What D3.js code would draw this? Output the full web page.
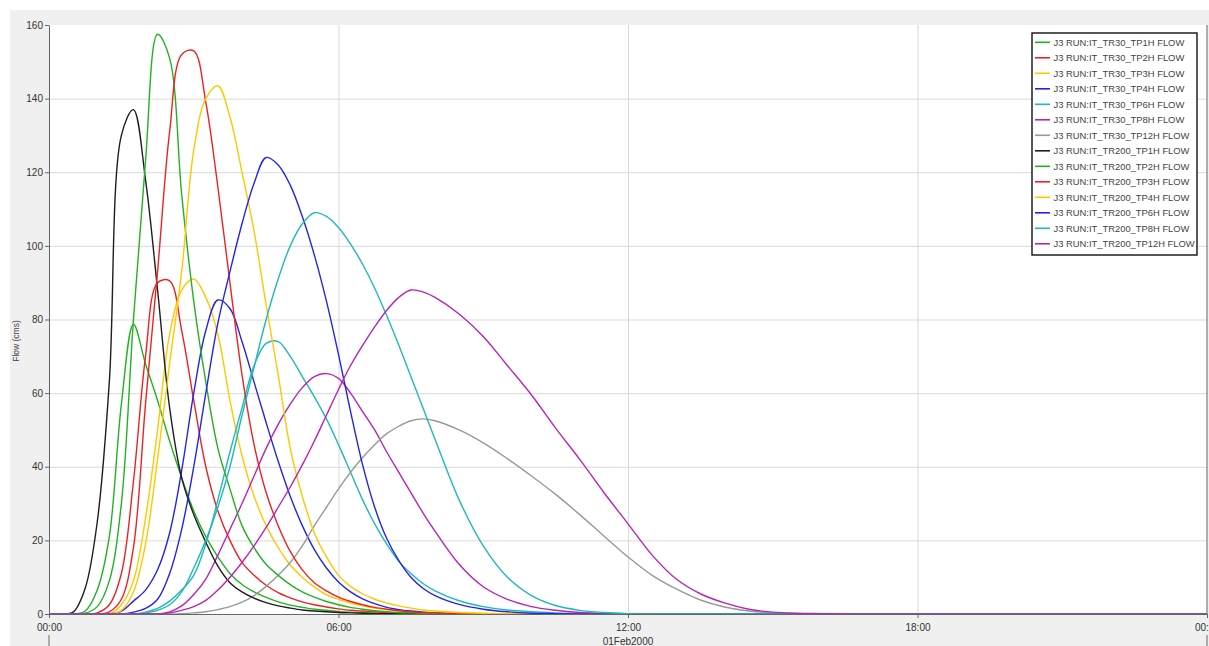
<!DOCTYPE html>
<html>
<head>
<meta charset="utf-8">
<script src="https://cdn.jsdelivr.net/npm/d3@7"></script>
<style>
body { margin: 0; background: #fff; }
svg { display: block; font-family: "Liberation Sans", Arial, sans-serif; }
</style>
</head>
<body>
<svg id="chart" width="1209" height="646"></svg>
<script>
// hours after 01Feb2000 00:00
var hours = [0,0.25,0.5,0.75,1,1.25,1.5,1.75,2,2.25,2.5,2.75,3,3.25,3.5,3.75,4,4.25,4.5,4.75,5,5.25,5.5,5.75,6,6.25,6.5,6.75,7,7.25,7.5,7.75,8,
  8.5,9,9.5,10,10.5,11,11.5,12,12.5,13,13.5,14,14.5,15,15.5,16,
  17,18,24];

// flow values (cms), one per hour above
var tr30Tp1h = [0,0,0,0.8,6.5,21,57,78.7,68,58,47,37,28,21,15.5,11,8,6,4.5,3.3,2.4,1.8,1.3,1,0.7,0.5,0.4,0.3,0.2,0.1,0.1,0,0,
  0,0,0,0,0,0,0,0,0,0,0,0,0,0,0,0,
  0,0,0];
var tr30Tp2h = [0,0,0,0,0.3,2.5,11,36,70,90,90.5,77,58,40,28,20,14,10.5,7.8,5.8,4.4,3.3,2.5,1.9,1.4,1,0.8,0.6,0.4,0.3,0.2,0.1,0.1,
  0,0,0,0,0,0,0,0,0,0,0,0,0,0,0,0,
  0,0,0];
var tr30Tp3h = [0,0,0,0,0,0,2.5,9,26,50,76,88,91,86,76,58,43,32,24,18,13.3,10,7.3,5.2,4,3,2.2,1.6,1.2,0.9,0.6,0.4,0.3,
  0.1,0,0,0,0,0,0,0,0,0,0,0,0,0,0,0,
  0,0,0];
var tr30Tp4h = [0,0,0,0,0,0,0.8,3.5,6.5,12,22,39,60,77,85.3,83,74,63,52,41.5,32,24,17.5,12.5,8.7,6,4.1,2.8,1.8,1.2,0.8,0.5,0.3,
  0.1,0,0,0,0,0,0,0,0,0,0,0,0,0,0,0,
  0,0,0];
var tr30Tp6h = [0,0,0,0,0,0,0,0,0.5,1.5,3.5,6.5,10.5,19,31,44,56,67.5,73.5,74,70,64.5,59,53,46,38.5,31,24.5,19,14.3,11,8.3,6.3,
  3.6,2,1.1,0.6,0.3,0.1,0,0,0,0,0,0,0,0,0,0,
  0,0,0];
var tr30Tp8h = [0,0,0,0,0,0,0,0,0,0,0.6,2.2,5.3,9.5,16,23,30,37.5,45,51.5,57,61.5,64.5,65.3,64,60,55,50,44,38.5,33,27.5,22.5,
  13.5,7.4,4,2,1,0.4,0.1,0,0,0,0,0,0,0,0,0,
  0,0,0];
var tr30Tp12h = [0,0,0,0,0,0,0,0,0,0,0,0.1,0.3,0.6,1.2,2,3.2,5,7.5,10.5,14,18.5,24,29,34,38.5,42.5,46,49,51,52.5,53,52.5,
  50,46.5,42.2,37.5,32.5,27,21.2,15.5,10.5,6.8,3.8,1.9,0.8,0.3,0.1,0,
  0,0,0];
var tr200Tp1h = [0,0,0.5,7,25,63,130,137,118,88,56,37,27,19.5,13,8.5,6,4.3,3.1,2.2,1.6,1.1,0.8,0.6,0.4,0.3,0.2,0.1,0.1,0,0,0,0,
  0,0,0,0,0,0,0,0,0,0,0,0,0,0,0,0,
  0,0,0];
var tr200Tp2h = [0,0,0,0.2,2,9,30,80,123,157.5,151,114,85,63,45,34,24,18,13.5,10.5,8,6,4.6,3.4,2.5,1.8,1.3,0.9,0.6,0.4,0.3,0.2,0.1,
  0,0,0,0,0,0,0,0,0,0,0,0,0,0,0,0,
  0,0,0];
var tr200Tp3h = [0,0,0,0,0,0.6,4,18,57,93,131,152,153,139,116,90,65,46,33,24,17,12,8.5,6.3,4.6,3.4,2.5,1.8,1.3,0.9,0.6,0.4,0.3,
  0.1,0,0,0,0,0,0,0,0,0,0,0,0,0,0,0,
  0,0,0];
var tr200Tp4h = [0,0,0,0,0,0,1,6,19,42,68,93,126,140,143.5,135,120,104,84,65,45,32,22,15.5,10.5,7.5,5.5,4,3,2.2,1.6,1.1,0.8,
  0.4,0.2,0.1,0,0,0,0,0,0,0,0,0,0,0,0,0,
  0,0,0];
var tr200Tp6h = [0,0,0,0,0,0,0,0.5,1.5,4,11,23,40,60,79,93,106,117,124,122,116.5,108,97.5,85,70.5,55,40.5,29,20.5,14.5,10,7,5,
  2.6,1.3,0.6,0.2,0.1,0,0,0,0,0,0,0,0,0,0,0,
  0,0,0];
var tr200Tp8h = [0,0,0,0,0,0,0,0,0.3,1,2.5,6,12.5,20,29,40,54,67,80,91,100,106,109,108,105,100.5,95,88.5,81,73,64.5,56,47.5,
  31,18.5,10,5,2.3,1,0.4,0.1,0,0,0,0,0,0,0,0,
  0,0,0];
var tr200Tp12h = [0,0,0,0,0,0,0,0,0,0,0.3,1,2,3.7,6.5,10,14,18.5,23.5,29,34.5,40.5,47,54,61,67.5,73,78,82.5,86,88,87.5,86,
  81.5,75.4,67.5,59.5,50.5,42,33,24.5,16,9.5,5.5,3,1.3,0.5,0.2,0.1,
  0,0,0];

var seriesNames = [
  "J3 RUN:IT_TR30_TP1H FLOW", "J3 RUN:IT_TR30_TP2H FLOW", "J3 RUN:IT_TR30_TP3H FLOW",
  "J3 RUN:IT_TR30_TP4H FLOW", "J3 RUN:IT_TR30_TP6H FLOW", "J3 RUN:IT_TR30_TP8H FLOW",
  "J3 RUN:IT_TR30_TP12H FLOW", "J3 RUN:IT_TR200_TP1H FLOW", "J3 RUN:IT_TR200_TP2H FLOW",
  "J3 RUN:IT_TR200_TP3H FLOW", "J3 RUN:IT_TR200_TP4H FLOW", "J3 RUN:IT_TR200_TP6H FLOW",
  "J3 RUN:IT_TR200_TP8H FLOW", "J3 RUN:IT_TR200_TP12H FLOW"
];
var seriesValues = [tr30Tp1h, tr30Tp2h, tr30Tp3h, tr30Tp4h, tr30Tp6h, tr30Tp8h, tr30Tp12h,
  tr200Tp1h, tr200Tp2h, tr200Tp3h, tr200Tp4h, tr200Tp6h, tr200Tp8h, tr200Tp12h];
var seriesColors = ["#22b222", "#ee2222", "#ffc800", "#2424e8", "#22b8b8", "#b824b8", "#999999",
  "#1e1e1e", "#22b222", "#ee2222", "#ffc800", "#2424e8", "#22b8b8", "#b824b8"];

var yTicks = [0, 20, 40, 60, 80, 100, 120, 140, 160];
var xTickHours = [0, 6, 12, 18, 24];
var dateLabel = "01Feb2000";
var yTitle = "Flow (cms)";

var svg = d3.select("#chart");
var plotL = 49, plotR = 1207, plotT = 25, plotB = 614;
var t0 = Date.UTC(2000, 1, 1);
function toDate(h) { return new Date(t0 + h * 3600000); }

var x = d3.scaleUtc().domain([toDate(0), toDate(24)]).range([plotL, plotR]);
var y = d3.scaleLinear().domain([0, 160]).range([plotB, plotT]);

// grey panel and white plot area
svg.append("rect").attr("x", 10).attr("y", 10).attr("width", 1199).attr("height", 636).attr("fill", "#f0f0f0");
svg.append("rect").attr("x", plotL).attr("y", plotT).attr("width", plotR - plotL).attr("height", plotB - plotT).attr("fill", "#fff");

// grid
svg.append("g")
  .attr("transform", "translate(" + plotL + ",0)")
  .call(d3.axisLeft(y).tickValues(yTicks.slice(1, -1)).tickSize(-(plotR - plotL)).tickFormat(""))
  .call(function (g) {
    g.select(".domain").remove();
    g.selectAll("line").attr("stroke", "#d9d9d9");
  });
svg.append("g")
  .attr("transform", "translate(0," + plotT + ")")
  .call(d3.axisBottom(x).tickValues(xTickHours.slice(1, -1).map(toDate)).tickSize(plotB - plotT).tickFormat(""))
  .call(function (g) {
    g.select(".domain").remove();
    g.selectAll("line").attr("stroke", "#d9d9d9");
  });

// series
svg.append("clipPath").attr("id", "plotClip")
  .append("rect").attr("x", plotL).attr("y", plotT).attr("width", plotR - plotL).attr("height", plotB - plotT + 1);

var line = d3.line()
  .x(function (d, i) { return x(toDate(hours[i])); })
  .y(function (d) { return y(d); })
  .curve(d3.curveCatmullRom.alpha(0.5));

svg.append("g").attr("clip-path", "url(#plotClip)")
  .selectAll("path")
  .data(seriesValues)
  .enter()
  .append("path")
  .attr("d", line)
  .attr("fill", "none")
  .attr("stroke", function (d, i) { return seriesColors[i]; })
  .attr("stroke-width", 1.4);

// axes
svg.append("g")
  .attr("transform", "translate(" + plotL + ",0)")
  .call(d3.axisLeft(y).tickValues(yTicks).tickSize(4).tickPadding(2).tickSizeOuter(0))
  .call(function (g) {
    g.select(".domain").attr("stroke", "#666");
    g.selectAll("line").attr("stroke", "#666");
    g.selectAll("text").attr("fill", "#333").attr("font-size", 10).attr("font-family", null);
  });
svg.append("g")
  .attr("transform", "translate(0," + plotB + ")")
  .call(d3.axisBottom(x).tickValues(xTickHours.map(toDate)).tickFormat(d3.utcFormat("%H:%M"))
    .tickSize(4).tickPadding(5.5).tickSizeOuter(0))
  .call(function (g) {
    g.select(".domain").attr("stroke", "#666");
    g.selectAll("line").attr("stroke", "#666");
    g.selectAll("text").attr("fill", "#333").attr("font-size", 10).attr("font-family", null);
  });
svg.append("line").attr("x1", plotR).attr("x2", plotR).attr("y1", plotT).attr("y2", plotB).attr("stroke", "#666");

// day boundary ticks and date label
svg.selectAll(".dayTick")
  .data([0, 24])
  .enter()
  .append("line")
  .attr("x1", function (d) { return x(toDate(d)); })
  .attr("x2", function (d) { return x(toDate(d)); })
  .attr("y1", 635).attr("y2", 646)
  .attr("stroke", "#666");
svg.append("text")
  .attr("x", x(toDate(12))).attr("y", 644.5)
  .attr("text-anchor", "middle").attr("font-size", 10).attr("fill", "#333")
  .text(dateLabel);

// y title
svg.append("text")
  .attr("transform", "translate(19,341) rotate(-90)")
  .attr("text-anchor", "middle").attr("font-size", 8.5).attr("fill", "#444")
  .text(yTitle);

// legend
var lg = svg.append("g");
lg.append("rect").attr("x", 1032).attr("y", 33).attr("width", 165).attr("height", 222)
  .attr("fill", "#fff").attr("stroke", "#111").attr("stroke-width", 1.4);
var rows = lg.selectAll(".row")
  .data(seriesNames)
  .enter()
  .append("g")
  .attr("transform", function (d, i) { return "translate(0," + (42.3 + i * 15.5) + ")"; });
rows.append("line").attr("x1", 1035).attr("x2", 1050).attr("y1", 0).attr("y2", 0)
  .attr("stroke", function (d, i) { return seriesColors[i]; }).attr("stroke-width", 1.6);
rows.append("text").attr("x", 1053.5).attr("y", 0).attr("dy", "0.35em")
  .attr("font-size", 9.4).attr("fill", "#444")
  .text(function (d) { return d; });
</script>
</body>
</html>
